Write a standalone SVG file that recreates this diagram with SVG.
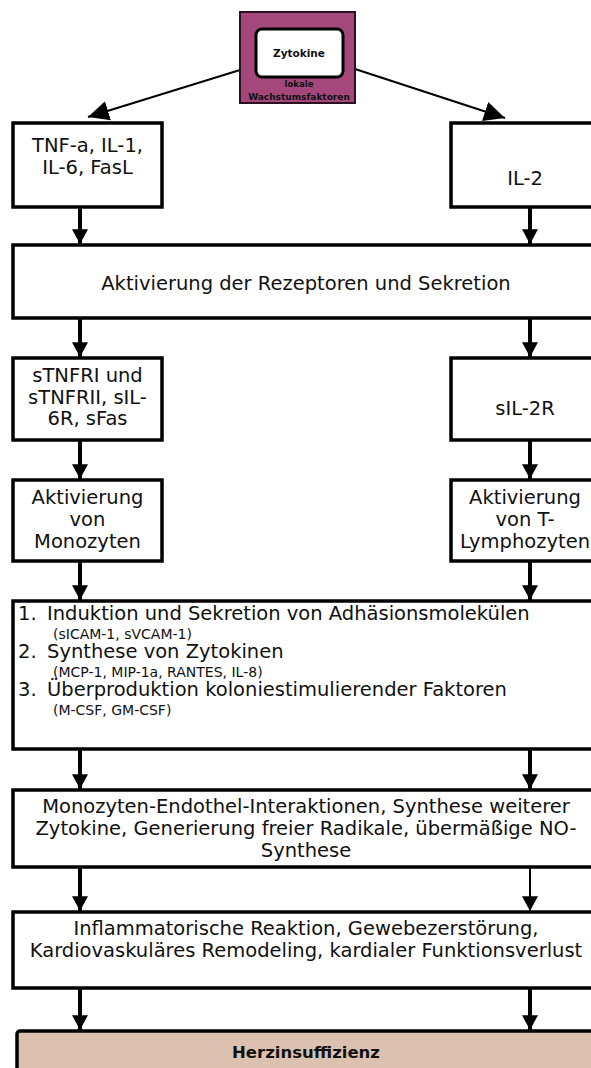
<svg xmlns="http://www.w3.org/2000/svg" width="591" height="1068" viewBox="0 0 591 1068">
<defs>
<style>
.box{fill:#fff;stroke:#000;stroke-width:3.5}
.t{font-family:"DejaVu Sans","Verdana",sans-serif;font-size:19.5px;fill:#111}
.c{text-anchor:middle}
.s{font-family:"DejaVu Sans","Verdana",sans-serif;font-size:14px;fill:#111}
.b{font-family:"DejaVu Sans","Verdana",sans-serif;font-weight:bold;fill:#111;text-anchor:middle}
.v{stroke:#000;stroke-width:4;fill:none;marker-end:url(#ah)}
.vt{stroke:#000;stroke-width:2;fill:none;marker-end:url(#ah)}
.d{stroke:#000;stroke-width:2;fill:none;marker-end:url(#ad)}
</style>
<marker id="ah" markerUnits="userSpaceOnUse" markerWidth="16" markerHeight="16" viewBox="0 0 14 14" refX="13" refY="7" orient="auto">
<path d="M0,0 L13,7 L0,14 Z" fill="#000"/>
</marker>
<marker id="ad" markerUnits="userSpaceOnUse" markerWidth="22" markerHeight="22" viewBox="0 0 20 18" refX="19" refY="9" orient="auto">
<path d="M0,0 L19,9 L0,18 Z" fill="#000"/>
</marker>
</defs>
<rect width="591" height="1068" fill="#fff"/>

<g id="connectors">
<line class="d" x1="240" y1="70" x2="88" y2="117"/>
<line class="d" x1="355" y1="69" x2="505" y2="118"/>
<line class="v" x1="80" y1="207" x2="80" y2="244"/>
<line class="v" x1="530" y1="207" x2="530" y2="244"/>
<line class="v" x1="80" y1="318" x2="80" y2="357"/>
<line class="v" x1="530" y1="318" x2="530" y2="357"/>
<line class="v" x1="80" y1="440" x2="80" y2="479"/>
<line class="v" x1="530" y1="440" x2="530" y2="479"/>
<line class="v" x1="80" y1="561" x2="80" y2="600"/>
<line class="v" x1="530" y1="561" x2="530" y2="600"/>
<line class="v" x1="80" y1="749" x2="80" y2="789"/>
<line class="v" x1="530" y1="749" x2="530" y2="789"/>
<line class="v" x1="80" y1="867" x2="80" y2="911"/>
<line class="vt" x1="530" y1="867" x2="530" y2="911"/>
<line class="v" x1="80" y1="988" x2="80" y2="1030"/>
<line class="v" x1="530" y1="988" x2="530" y2="1030"/>
</g>

<g id="zytokine">
<rect x="240" y="12" width="115" height="91" fill="#a4477a" stroke="#2a1020" stroke-width="2"/>
<rect x="256" y="29" width="87" height="48" rx="6" fill="#fff" stroke="#000" stroke-width="3"/>
<text class="b" x="299" y="57" font-size="10.5">Zytokine</text>
<text class="b" x="299" y="87" font-size="8.5">lokale</text>
<text class="b" x="299" y="100" font-size="9">Wachstumsfaktoren</text>
</g>

<g id="tnf">
<rect class="box" x="13" y="123" width="149" height="84"/>
<text class="t c" x="87.5" y="152">TNF-a, IL-1,</text>
<text class="t c" x="87.5" y="174">IL-6, FasL</text>
</g>

<g id="il2">
<rect class="box" x="451" y="123" width="149" height="84"/>
<text class="t c" x="525" y="185">IL-2</text>
</g>

<g id="aktivierung-rezeptoren">
<rect class="box" x="13" y="245" width="587" height="73"/>
<text class="t c" x="306" y="290">Aktivierung der Rezeptoren und Sekretion</text>
</g>

<g id="stnfr">
<rect class="box" x="13" y="358" width="149" height="82"/>
<text class="t c" x="87.5" y="382">sTNFRI und</text>
<text class="t c" x="87.5" y="404">sTNFRII, sIL-</text>
<text class="t c" x="87.5" y="425">6R, sFas</text>
</g>

<g id="sil2r">
<rect class="box" x="451" y="358" width="149" height="82"/>
<text class="t c" x="525" y="415">sIL-2R</text>
</g>

<g id="monozyten">
<rect class="box" x="13" y="480" width="149" height="81"/>
<text class="t c" x="87.5" y="504">Aktivierung</text>
<text class="t c" x="87.5" y="526">von</text>
<text class="t c" x="87.5" y="548">Monozyten</text>
</g>

<g id="lymphozyten">
<rect class="box" x="451" y="480" width="149" height="81"/>
<text class="t c" x="525" y="504">Aktivierung</text>
<text class="t c" x="525" y="526">von T-</text>
<text class="t c" x="525" y="548">Lymphozyten</text>
</g>

<g id="liste">
<rect class="box" x="13" y="601" width="587" height="148"/>
<text class="t" x="18" y="620">1.</text>
<text class="t" x="47" y="620">Induktion und Sekretion von Adhäsionsmolekülen</text>
<text class="s" x="53" y="639">(sICAM-1, sVCAM-1)</text>
<text class="t" x="18" y="658">2.</text>
<text class="t" x="47" y="658">Synthese von Zytokinen</text>
<text class="s" x="53" y="677">(MCP-1, MIP-1a, RANTES, IL-8)</text>
<text class="t" x="18" y="696">3.</text>
<text class="t" x="47" y="696">Überproduktion koloniestimulierender Faktoren</text>
<text class="s" x="53" y="715">(M-CSF, GM-CSF)</text>
</g>

<g id="endothel">
<rect class="box" x="13" y="790" width="587" height="77"/>
<text class="t c" x="306" y="813">Monozyten-Endothel-Interaktionen, Synthese weiterer</text>
<text class="t c" x="306" y="835">Zytokine, Generierung freier Radikale, übermäßige NO-</text>
<text class="t c" x="306" y="857">Synthese</text>
</g>

<g id="inflammation">
<rect class="box" x="13" y="912" width="587" height="76"/>
<text class="t c" x="306" y="935">Inflammatorische Reaktion, Gewebezerstörung,</text>
<text class="t c" x="306" y="957">Kardiovaskuläres Remodeling, kardialer Funktionsverlust</text>
</g>

<g id="herzinsuffizienz">
<rect x="17" y="1031" width="590" height="60" rx="3" fill="#dcc1b1" stroke="#000" stroke-width="3.5"/>
<text class="b" x="306" y="1058" font-size="16.5">Herzinsuffizienz</text>
</g>
</svg>
